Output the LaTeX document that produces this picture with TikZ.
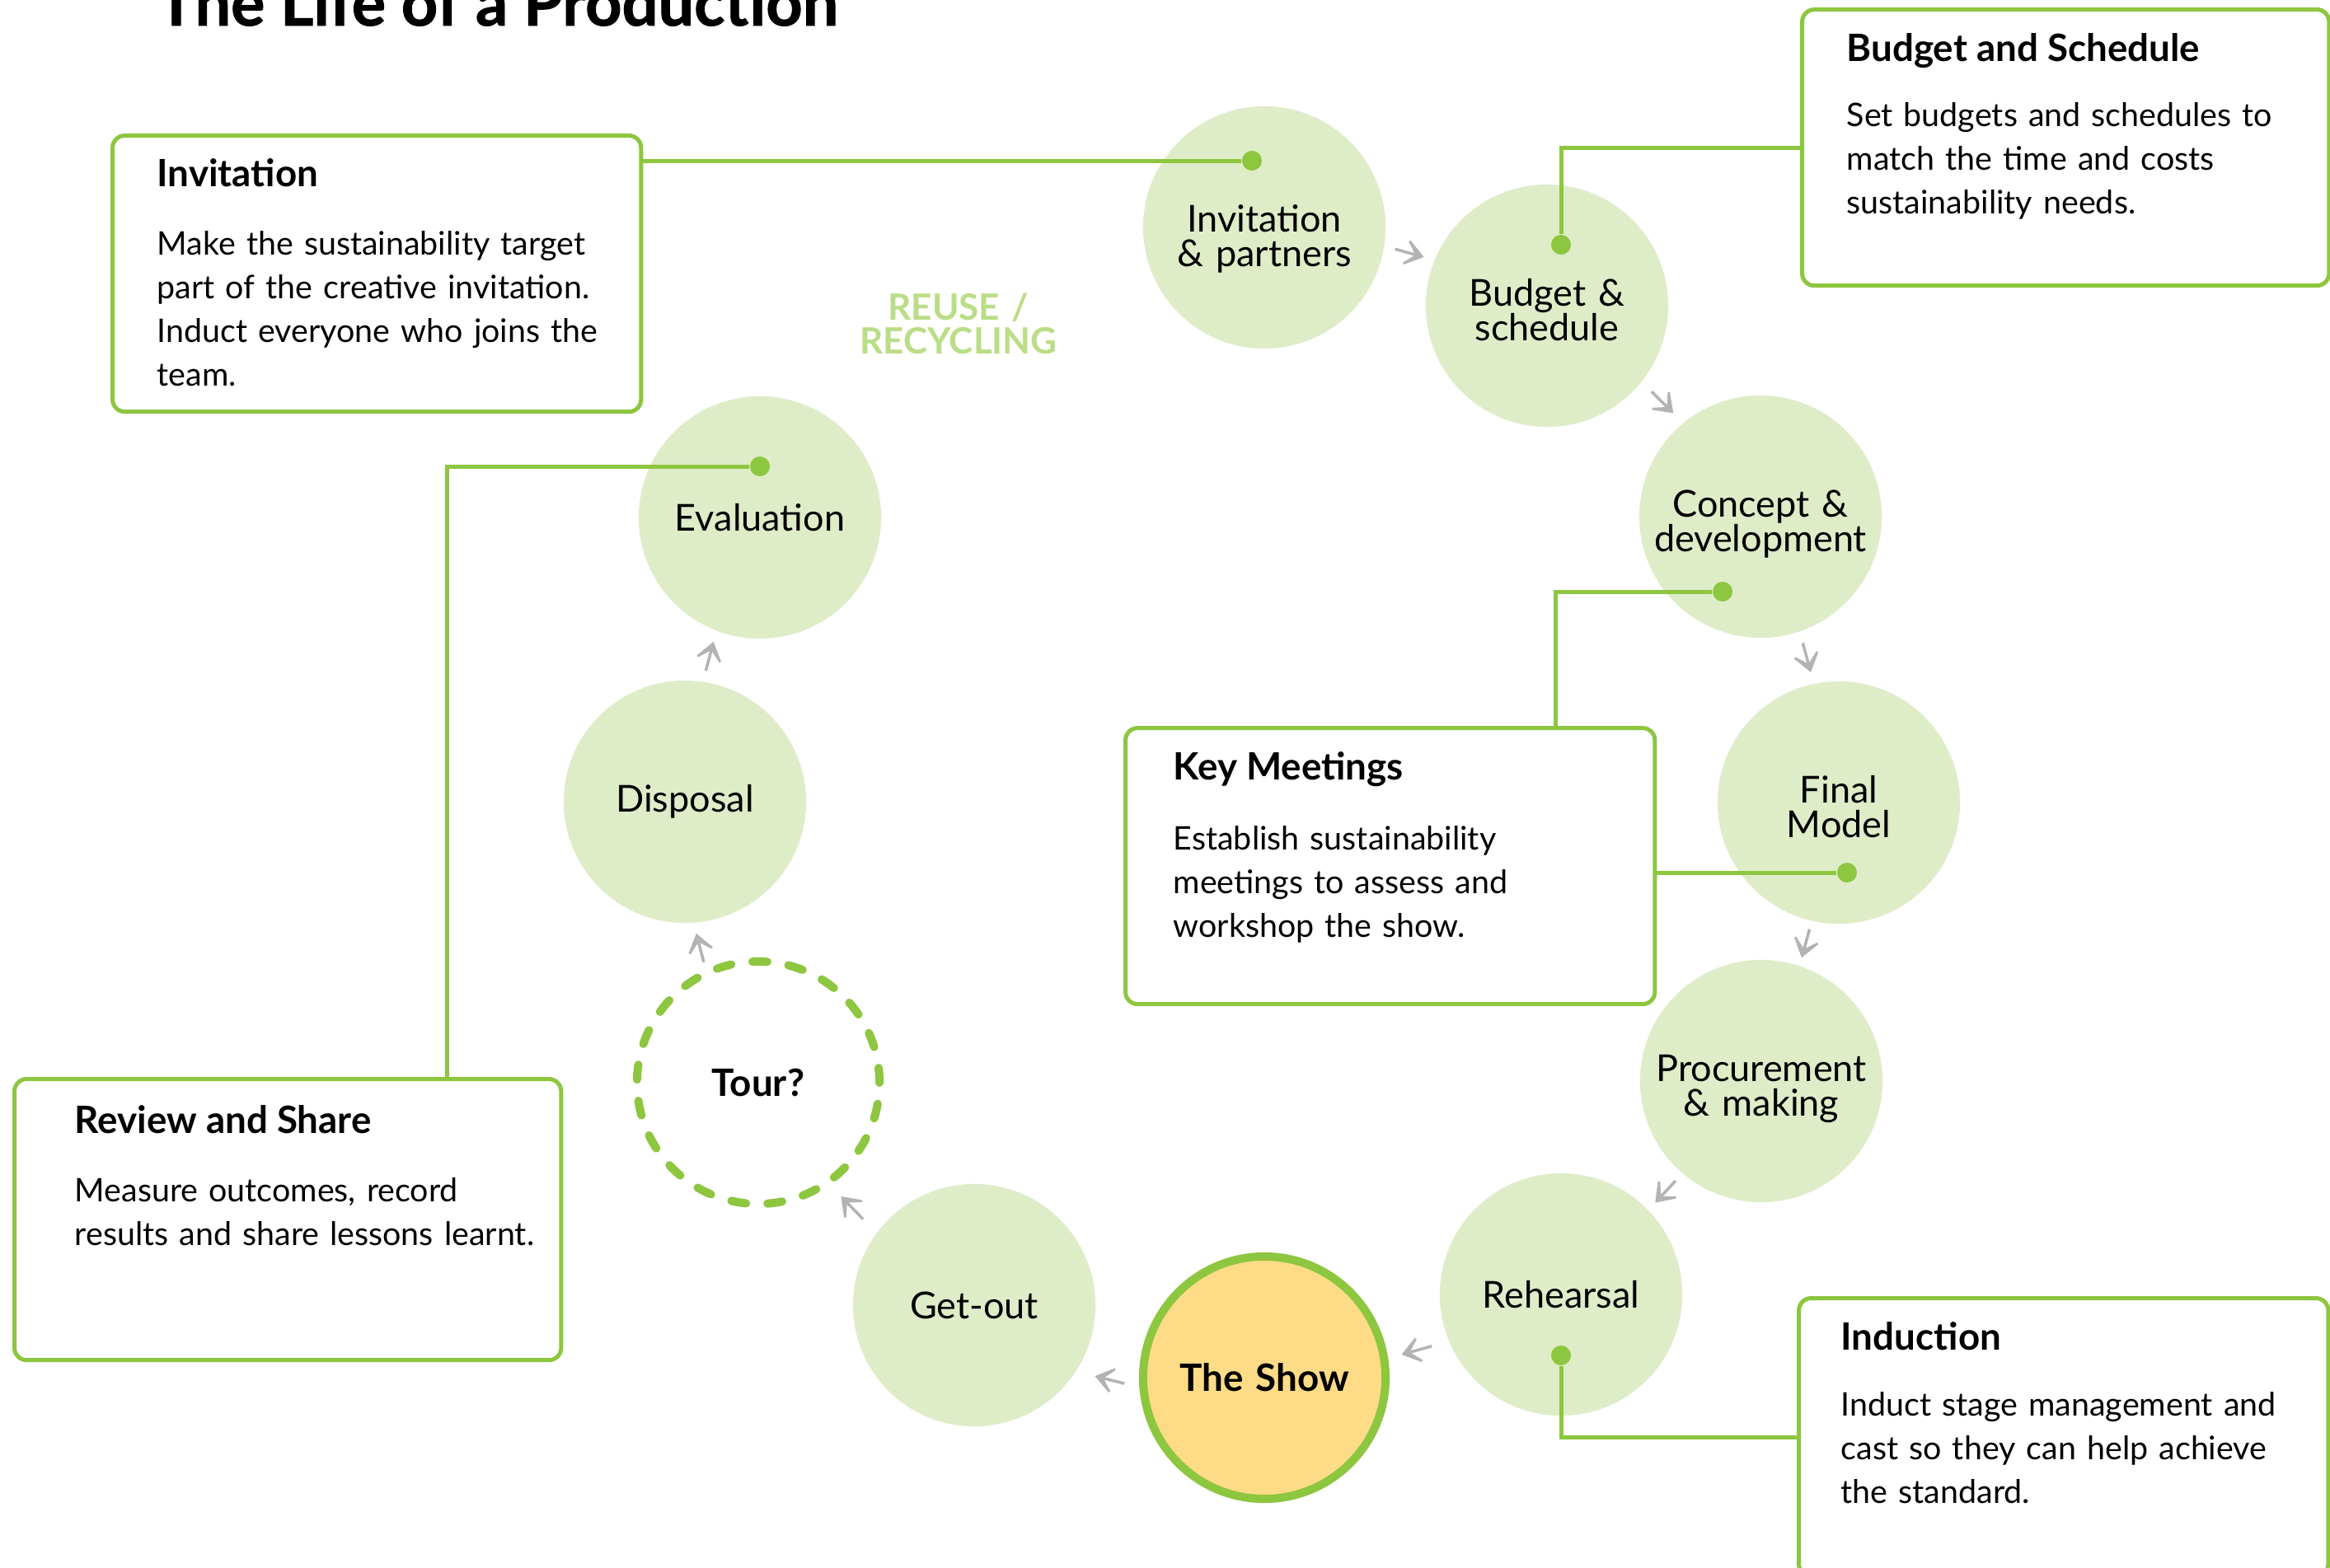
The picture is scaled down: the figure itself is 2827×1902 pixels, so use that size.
\documentclass[tikz,border=0pt]{standalone}
\usepackage{fontspec}
\setmainfont{Lato}
\newfontfamily\titlefont{Lato}[BoldFeatures={FakeBold=1.2}]
\usetikzlibrary{calc,arrows.meta}
\definecolor{leaf}{HTML}{8DC63F}
\definecolor{pale}{HTML}{DEEDC8}
\definecolor{sun}{HTML}{FDDB87}
\definecolor{ash}{HTML}{B3B3B3}
\definecolor{mint}{HTML}{BADD87}
\tikzset{
    stage/.style={circle, fill=pale, minimum size=2.94cm, inner sep=0pt,
    	text width=2.6cm, align=center, font=\fontsize{12.8}{12}\selectfont},
    twoline/.style={stage, text height=13pt, text depth=13pt}
}
\tikzset{
    flow/.style={draw=ash, line width=1pt,
    	-{Stealth[length=9pt,width=13pt,inset=6pt]}}
}
\tikzset{
    note/.style={draw=leaf, fill=white, line width=0.05cm,
    	rounded corners=0.15cm, anchor=north west, inner sep=0pt},
    link/.style={draw=leaf, line width=0.05cm},
    dot/.style={circle, fill=leaf, minimum size=0.24cm, inner sep=0pt},
    head/.style={anchor=base west, inner sep=0pt,
    	font=\bfseries\fontsize{13}{15}\selectfont},
    body/.style={anchor=base west, inner sep=0pt, text width=7cm,
    	align=left, font=\fontsize{11.2}{15.1}\selectfont}
}

\begin{document}
\begin{tikzpicture}[x=0.01cm, y=0.01cm]
	\useasboundingbox (0,0) rectangle (2827,-1902);
	\fill[white] (0,0) rectangle (2827,-1902);

	\node (title) [anchor=base west, inner sep=0pt,
		font=\titlefont\bfseries\fontsize{22}{22}\selectfont] at (190,-31)
		{The Life of a Production};
	\node (reuse) [anchor=base, inner sep=0pt, text width=3cm, align=center,
		text=mint, font=\bfseries\fontsize{12.5}{11.7}\selectfont]
		at (1163,-388) {REUSE /\\RECYCLING};

	% the stages
	\node (inv) [twoline, text height=16pt] at (1534,-276)
		{Invitation\\\& partners};
	\node (bud) [twoline] at (1877,-371) {Budget \&\\schedule};
	\node (con) [twoline] at (2136,-627) {Concept \&\\development};
	\node (fin) [twoline] at (2231,-974) {Final\\Model};
	\node (pro) [twoline] at (2137,-1312) {Procurement\\\& making};
	\node (reh) [stage] at (1894,-1571) {Rehearsal};
	\node (show) [stage, fill=sun, draw=leaf, line width=0.1cm,
		font=\bfseries\fontsize{13}{13}\selectfont] at (1534,-1672) {The Show};
	\node (get) [stage] at (1182,-1584) {Get-out};
	\node (tour) [stage, fill=none, draw=leaf, line width=0.1cm,
		dash pattern=on 0.18cm off 0.26cm, line cap=round,
		font=\bfseries\fontsize{13}{13}\selectfont] at (920,-1314) {Tour?};
	\node (dis) [stage] at (831,-973) {Disposal};
	\node (eva) [stage] at (922,-628) {Evaluation};

	\foreach \a/\b/\o in {inv/bud/0.17cm, bud/con/0.15cm, con/fin/0.09cm,
		fin/pro/0.07cm, pro/reh/0.07cm, reh/show/0.18cm, show/get/0.48cm,
		get/tour/0.24cm, tour/dis/0.27cm, dis/eva/0.16cm}
		\draw[flow] ($(\a)!0.449!(\b)!\o!90:(\b)$) --
			($(\a)!0.551!(\b)!\o!90:(\b)$);

	% callouts
	\node (inv-dot) [dot] at (1519,-195) {};
	\node (bud-dot) [dot] at (1894,-297) {};
	\node (con-dot) [dot] at (2090,-718) {};
	\node (fin-dot) [dot] at (2241,-1059) {};
	\node (eva-dot) [dot] at (922,-566) {};
	\node (reh-dot) [dot] at (1894,-1645) {};

	\node (inv-box) [note, minimum width=6.41cm, minimum height=3.35cm]
		at (134,-162) {};
	\node (bud-box) [note, minimum width=6.39cm, minimum height=3.35cm]
		at (2184,-9) {};
	\node (key-box) [note, minimum width=6.42cm, minimum height=3.35cm]
		at (1363,-881) {};
	\node (rev-box) [note, minimum width=6.63cm, minimum height=3.41cm]
		at (15,-1307) {};
	\node (ind-box) [note, minimum width=6.42cm, minimum height=3.37cm]
		at (2180,-1573) {};

	\draw[link] (inv-dot) -- (inv-dot -| inv-box.east);
	\draw[link] (bud-dot) |- (bud-box.west);
	\draw[link] (con-dot) -| ([xshift=2.005cm]key-box.north);
	\draw[link] (fin-dot) -- (fin-dot -| key-box.east);
	\draw[link] (eva-dot) -| ([xshift=1.935cm]rev-box.north);
	\draw[link] (reh-dot) |- (ind-box.west);

	\node (inv-head) [head] at (190,-226) {Invitation};
	\node (inv-text) [body] at (190,-309) {Make the sustainability target\\
		part of the creative invitation.\\Induct everyone who joins the\\team.};
	\node (bud-head) [head] at (2240,-74) {Budget and Schedule};
	\node (bud-text) [body] at (2240,-153) {Set budgets and schedules to\\
		match the time and costs\\sustainability needs.};
	\node (key-head) [head] at (1423,-946) {Key Meetings};
	\node (key-text) [body] at (1423,-1031) {Establish sustainability\\
		meetings to assess and\\workshop the show.};
	\node (rev-head) [head] at (90,-1375) {Review and Share};
	\node (rev-text) [body] at (90,-1458) {Measure outcomes, record\\
		results and share lessons learnt.};
	\node (ind-head) [head] at (2233,-1638) {Induction};
	\node (ind-text) [body] at (2233,-1718) {Induct stage management and\\
		cast so they can help achieve\\the standard.};
\end{tikzpicture}
\end{document}
